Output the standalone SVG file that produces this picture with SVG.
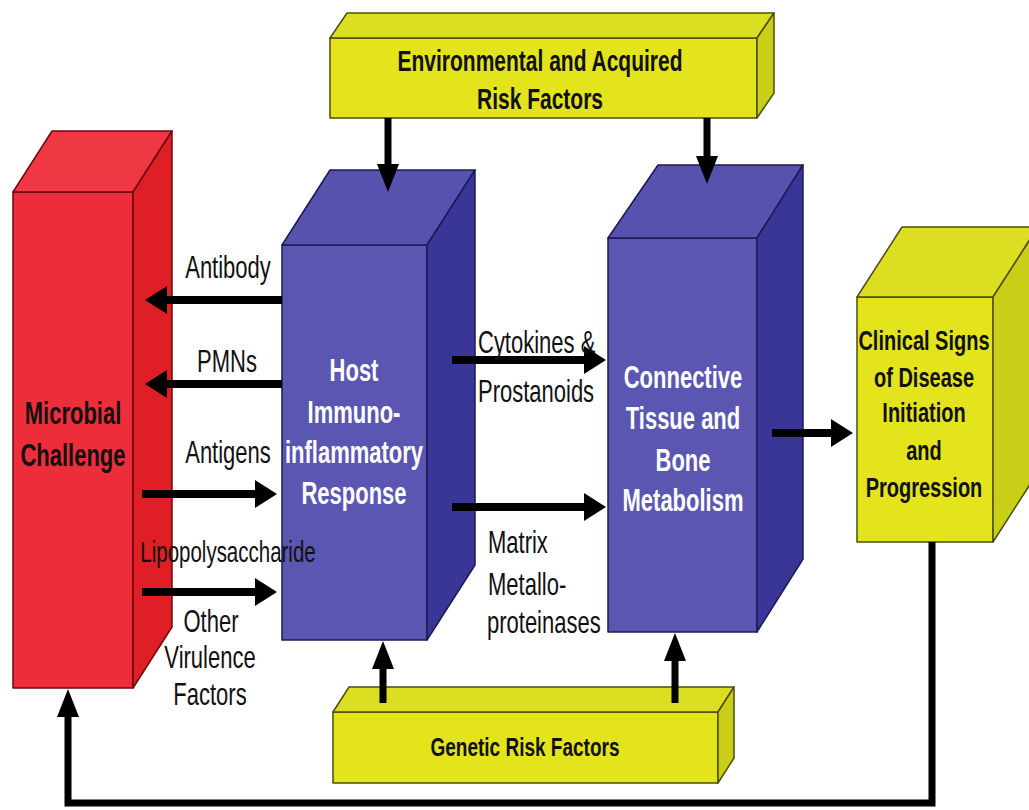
<svg xmlns="http://www.w3.org/2000/svg" width="1029" height="810" viewBox="0 0 1029 810">
<defs>
<style>
.edge{stroke-width:1.5;stroke-linejoin:round}
.r .f{fill:#EE2D3A}.r .t{fill:#EF3844}.r .s{fill:#E01E26}.r polygon{stroke:#6B0A0E}
.b .f{fill:#5B56B2}.b .t{fill:#5652AE}.b .s{fill:#3A3697}.b polygon{stroke:#1C1A55}
.y .f{fill:#E3E41C}.y .t{fill:#DCDE22}.y .s{fill:#C9CE17}.y polygon{stroke:#4D4E0C}
text{font-family:"Liberation Sans",Arial,sans-serif}
.bt{font-weight:bold;fill:#111;text-anchor:middle}
.wt{font-weight:bold;fill:#fff;text-anchor:middle;font-size:22px}
.lb{fill:#111;font-size:22px}
.m{text-anchor:middle}
.h{fill:none;stroke:#000;stroke-width:8}
.v{fill:none;stroke:#000;stroke-width:7}
</style>
<marker id="ah" markerUnits="userSpaceOnUse" markerWidth="22" markerHeight="28" refX="0" refY="14" orient="auto" overflow="visible"><path d="M0,0 L22,14 L0,28 z" fill="#000"/></marker>
<marker id="av" markerUnits="userSpaceOnUse" markerWidth="28" markerHeight="22" refX="0" refY="11" orient="auto" overflow="visible"><path d="M0,0 L28,11 L0,22 z" fill="#000"/></marker>
</defs>
<rect width="1029" height="810" fill="#fff"/>

<g id="env" class="y edge">
<polygon class="f" points="330,38 757,38 757,118 330,118"/>
<polygon class="t" points="330,38 347,13 774,13 757,38"/>
<polygon class="s" points="757,38 774,13 774,93 757,118"/>
<text class="bt" font-size="21" transform="translate(540,70.5) scale(1,1.4)">Environmental and Acquired</text>
<text class="bt" font-size="21" transform="translate(540,108.5) scale(1,1.4)">Risk Factors</text>
</g>

<g id="microbial" class="r edge">
<polygon class="f" points="13,192 133,192 133,688 13,688"/>
<polygon class="t" points="13,192 52,131 172,131 133,192"/>
<polygon class="s" points="133,192 172,131 172,627 133,688"/>
<text class="bt" font-size="22" transform="translate(73,424) scale(1,1.4)">Microbial</text>
<text class="bt" font-size="22" transform="translate(73,466) scale(1,1.4)">Challenge</text>
</g>

<g id="host" class="b edge">
<polygon class="f" points="282,245 427,245 427,640 282,640"/>
<polygon class="t" points="282,245 330,170 475,170 427,245"/>
<polygon class="s" points="427,245 475,170 475,565 427,640"/>
<text class="wt" transform="translate(354,381) scale(1,1.4)">Host</text>
<text class="wt" transform="translate(354,423) scale(1,1.4)">Immuno-</text>
<text class="wt" transform="translate(354,463) scale(1,1.4)">inflammatory</text>
<text class="wt" transform="translate(354,504) scale(1,1.4)">Response</text>
</g>

<g id="connective" class="b edge">
<polygon class="f" points="608,238 757,238 757,632 608,632"/>
<polygon class="t" points="608,238 658,165 803,165 757,238"/>
<polygon class="s" points="757,238 803,165 803,559 757,632"/>
<text class="wt" transform="translate(683,388) scale(1,1.4)">Connective</text>
<text class="wt" transform="translate(683,429) scale(1,1.4)">Tissue and</text>
<text class="wt" transform="translate(683,471) scale(1,1.4)">Bone</text>
<text class="wt" transform="translate(683,511) scale(1,1.4)">Metabolism</text>
</g>

<g id="clinical" class="y edge">
<polygon class="f" points="857,297 993,297 993,542 857,542"/>
<polygon class="t" points="857,297 902,227 1038,227 993,297"/>
<polygon class="s" points="993,297 1038,227 1038,472 993,542"/>
<text class="bt" font-size="20" transform="translate(924,350) scale(1,1.4)">Clinical Signs</text>
<text class="bt" font-size="20" transform="translate(924,387) scale(1,1.4)">of Disease</text>
<text class="bt" font-size="20" transform="translate(924,422) scale(1,1.4)">Initiation</text>
<text class="bt" font-size="20" transform="translate(924,460) scale(1,1.4)">and</text>
<text class="bt" font-size="20" transform="translate(924,497) scale(1,1.4)">Progression</text>
</g>

<g id="genetic" class="y edge">
<polygon class="f" points="333,712 718,712 718,783 333,783"/>
<polygon class="t" points="333,712 349,687 734,687 718,712"/>
<polygon class="s" points="718,712 734,687 734,758 718,783"/>
<text class="bt" font-size="19" transform="translate(525,756) scale(1,1.4)">Genetic Risk Factors</text>
</g>

<g id="connectors">
<path class="h" d="M282,300 H167" marker-end="url(#ah)"/>
<path class="h" d="M282,384 H167" marker-end="url(#ah)"/>
<path class="h" d="M142,494 H255" marker-end="url(#ah)"/>
<path class="h" d="M142,592 H255" marker-end="url(#ah)"/>
<path class="h" d="M452,360 H584" marker-end="url(#ah)"/>
<path class="h" d="M452,507 H584" marker-end="url(#ah)"/>
<path class="h" d="M772,433 H831" marker-end="url(#ah)"/>
<path class="v" d="M388,118 V164" marker-end="url(#av)"/>
<path class="v" d="M707,118 V156" marker-end="url(#av)"/>
<path class="v" d="M383,703 V669" marker-end="url(#av)"/>
<path class="v" d="M675,703 V661" marker-end="url(#av)"/>
<path class="v" d="M932,542 V803 H68 V717" stroke-linejoin="miter" marker-end="url(#av)"/>
</g>

<g id="labels">
<text class="lb m" transform="translate(228,278) scale(1,1.4)">Antibody</text>
<text class="lb m" transform="translate(227,372) scale(1,1.4)">PMNs</text>
<text class="lb m" transform="translate(228,463) scale(1,1.4)">Antigens</text>
<text class="lb m" font-size="20.5" style="font-size:20.5px" transform="translate(228,562) scale(1,1.4)">Lipopolysaccharide</text>
<text class="lb m" transform="translate(211,632) scale(1,1.4)">Other</text>
<text class="lb m" transform="translate(210,668) scale(1,1.4)">Virulence</text>
<text class="lb m" transform="translate(210,705) scale(1,1.4)">Factors</text>
<text class="lb" transform="translate(478,353) scale(1,1.4)">Cytokines &amp;</text>
<text class="lb" transform="translate(478,402) scale(1,1.4)">Prostanoids</text>
<text class="lb" transform="translate(488,553) scale(1,1.4)">Matrix</text>
<text class="lb" transform="translate(488,595) scale(1,1.4)">Metallo-</text>
<text class="lb" transform="translate(487,633) scale(1,1.4)">proteinases</text>
</g>
</svg>
